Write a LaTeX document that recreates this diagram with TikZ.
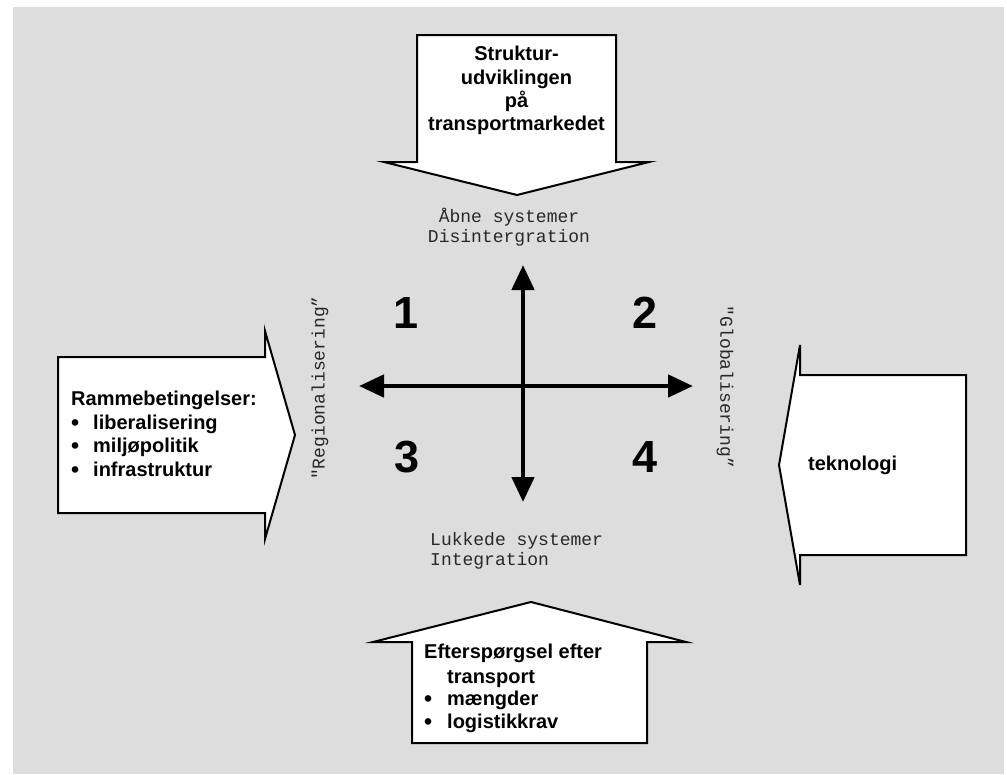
\documentclass[tikz,border=0pt]{standalone}
\usepackage{fontspec}
\setmainfont{Liberation Sans}
\newfontfamily\monofont{Liberation Mono}
\usetikzlibrary{arrows.meta}
\definecolor{panelgray}{RGB}{221,221,221}
\definecolor{labelgray}{RGB}{40,40,40}
\newcommand{\bigbullet}{\raisebox{-1.5pt}{\fontsize{23}{23}\selectfont •}}
\begin{document}
\begin{tikzpicture}[x=1pt,y=-1pt,
  blockarrow/.style={draw=black,fill=white,line width=2pt,line join=miter},
  boxtext/.style={inner sep=0pt,font=\fontsize{20}{23.5}\selectfont\bfseries},
  monotext/.style={inner sep=0pt,text=labelgray,font=\fontsize{18}{20}\selectfont\monofont},
  quadrant/.style={inner sep=0pt,font=\fontsize{45}{45}\selectfont\bfseries},
  axis/.style={line width=4.7pt,{Triangle[length=25pt,width=22pt]}-{Triangle[length=25pt,width=22pt]}}
]
\useasboundingbox (0,0) rectangle (1007,774);
% background panel
\fill[panelgray] (13,7) rectangle (1004,774);

% block arrows pointing at the centre
\draw[blockarrow] (417,35) -- (616,35) -- (616,162) -- (649,162) -- (517,195)
  -- (384,162) -- (417,162) -- cycle;
\draw[blockarrow] (58,357) -- (265,357) -- (265,331) -- (295,435) -- (265,539)
  -- (265,513) -- (58,513) -- cycle;
\draw[blockarrow] (966,375) -- (800,375) -- (800,345) -- (779,465) -- (800,585)
  -- (800,555) -- (966,555) -- cycle;
\draw[blockarrow] (412,743) -- (412,642) -- (373,642) -- (531,602) -- (686,642)
  -- (647,642) -- (647,743) -- cycle;

% top arrow text
\node[boxtext,anchor=base] (s1) at (516.5,60.5) {Struktur-};
\node[boxtext,anchor=base] (s2) at (516.5,84) {udviklingen};
\node[boxtext,anchor=base] (s3) at (516.5,107) {på};
\node[boxtext,anchor=base] (s4) at (516.5,130) {transportmarkedet};

% left arrow text
\node[boxtext,anchor=base west] (r0) at (71,405) {Rammebetingelser:};
\node[boxtext,anchor=base west] (rb1) at (71,429) {\bigbullet};
\node[boxtext,anchor=base west] (r1) at (93,429) {liberalisering};
\node[boxtext,anchor=base west] (rb2) at (71,452) {\bigbullet};
\node[boxtext,anchor=base west] (r2) at (93,452) {miljøpolitik};
\node[boxtext,anchor=base west] (rb3) at (71,476) {\bigbullet};
\node[boxtext,anchor=base west] (r3) at (93,476) {infrastruktur};

% right arrow text
\node[boxtext,anchor=base west] (tek) at (808,470) {teknologi};

% bottom arrow text
\node[boxtext,anchor=base west] (e0) at (424,658) {Efterspørgsel efter};
\node[boxtext,anchor=base west] (e1) at (447,683) {transport};
\node[boxtext,anchor=base west] (eb2) at (424,705) {\bigbullet};
\node[boxtext,anchor=base west] (e2) at (447,705) {mængder};
\node[boxtext,anchor=base west] (eb3) at (424,728) {\bigbullet};
\node[boxtext,anchor=base west] (e3) at (447,728) {logistikkrav};

% axis labels
\node[monotext,anchor=base] (open1) at (509,222) {Åbne systemer};
\node[monotext,anchor=base] (open2) at (509,242) {Disintergration};
\node[monotext,anchor=base west] (closed1) at (430,545) {Lukkede systemer};
\node[monotext,anchor=base west] (closed2) at (430,565) {Integration};
\node[monotext,rotate=90] (reg) at (320,388) {"Regionalisering”};
\node[monotext,rotate=-90] (glob) at (725,387) {"Globalisering”};

% the cross of two double arrows
\coordinate (north) at (523,265);
\coordinate (south) at (523,502);
\coordinate (west) at (359,386);
\coordinate (east) at (693,386);
\draw[axis] (south) -- (north);
\draw[axis] (west) -- (east);

% quadrant numbers
\node[quadrant] (q1) at (406,313) {1};
\node[quadrant] (q2) at (645,313) {2};
\node[quadrant] (q3) at (407,457) {3};
\node[quadrant] (q4) at (645,457) {4};
\end{tikzpicture}
\end{document}
